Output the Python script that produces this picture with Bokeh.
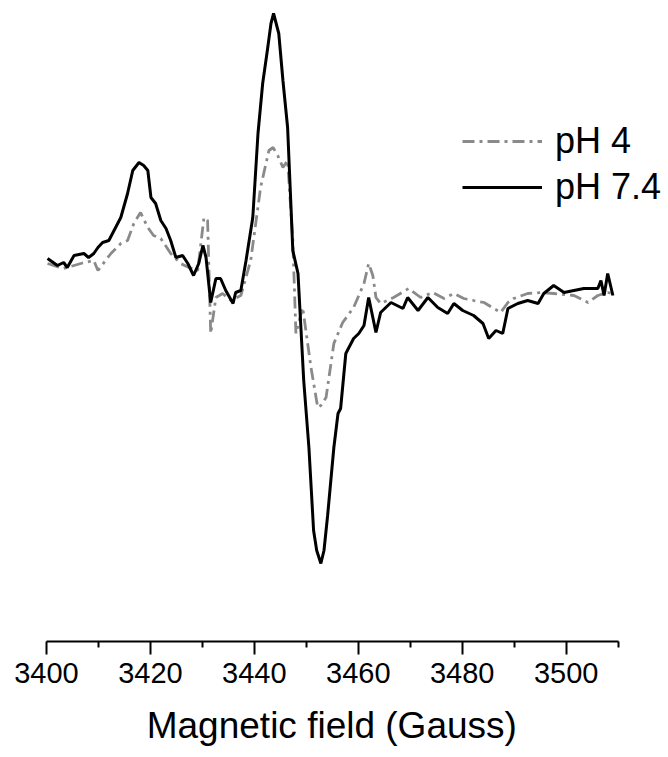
from bokeh.plotting import figure
from bokeh.models import Range1d, FixedTicker, Legend, LegendItem
from bokeh.embed import file_html
from bokeh.resources import INLINE

# pH 7.4 (solid black)
field_74 = [3400.2, 3402.1, 3403.3, 3404.0, 3405.3, 3407.2, 3408.1, 3409.1, 3409.9, 3410.8,
            3412.0, 3413.0, 3414.3, 3415.6, 3416.6, 3417.8, 3418.7, 3419.5, 3420.1, 3421.0,
            3422.0, 3423.0, 3423.9, 3424.9, 3426.2, 3427.2, 3428.3, 3429.3, 3430.1, 3430.7,
            3431.6, 3432.6, 3433.5, 3434.5, 3435.9, 3436.4, 3437.4, 3438.4, 3439.7, 3440.7,
            3441.6, 3442.5, 3443.2, 3443.7, 3444.7, 3445.5, 3446.4, 3447.0, 3447.4, 3448.4,
            3449.5, 3450.5, 3451.4, 3452.0, 3452.8, 3453.4, 3454.1, 3455.3, 3456.1, 3456.6,
            3457.6, 3459.1, 3460.1, 3461.1, 3462.0, 3463.4, 3464.3, 3466.3, 3468.6, 3469.5,
            3471.5, 3473.4, 3475.3, 3477.2, 3478.4, 3480.1, 3482.2, 3484.0, 3485.1, 3486.5,
            3487.8, 3488.8, 3490.7, 3492.6, 3494.6, 3495.7, 3497.6, 3499.6, 3501.5, 3503.4,
            3506.1, 3506.7, 3507.3, 3508.0, 3509.0]
signal_74 = [7, 0, 3, -2, 10, 12, 8, 12, 18, 23,
             25, 35, 48, 72, 95, 103, 100, 95, 68, 62,
             45, 37, 25, 8, 10, 2, -10, 2, 20, 8,
             -37, -13, -13, -25, -38, -27, -25, 5, 48, 132,
             182, 215, 242, 252, 232, 185, 138, 65, 15, -8,
             -115, -182, -265, -285, -298, -285, -250, -182, -148, -143,
             -88, -73, -68, -60, -32, -67, -47, -37, -43, -32,
             -45, -32, -42, -48, -38, -45, -50, -58, -73, -65,
             -68, -43, -38, -35, -38, -28, -20, -27, -25, -23,
             -23, -15, -30, -8, -30]

# pH 4 (grey dash-dot)
field_4 = [3400.2, 3403.3, 3406.6, 3409.1, 3409.9, 3412.4, 3414.3, 3415.6, 3416.8, 3418.1,
           3419.5, 3420.6, 3422.0, 3423.9, 3425.8, 3427.4, 3429.1, 3430.3, 3431.0, 3431.6,
           3432.6, 3433.9, 3435.5, 3437.4, 3439.3, 3441.2, 3442.8, 3443.6, 3444.5, 3445.5,
           3446.4, 3447.4, 3448.0, 3449.3, 3450.9, 3452.2, 3452.8, 3453.8, 3455.3, 3457.0,
           3459.1, 3461.1, 3462.0, 3462.8, 3463.4, 3464.3, 3466.8, 3469.7, 3472.0, 3474.3,
           3476.5, 3478.4, 3480.3, 3482.2, 3484.2, 3486.1, 3487.4, 3488.8, 3489.9, 3492.6,
           3495.1, 3497.6, 3501.5, 3504.2, 3506.1, 3508.0, 3509.0]
signal_4 = [2, -3, 2, 5, -5, 12, 22, 25, 42, 53,
            38, 30, 27, 12, 2, -2, -5, 48, 45, -68,
            -32, -28, -35, -30, 5, 78, 115, 118, 110, 98,
            105, 25, -68, -42, -102, -142, -140, -132, -78, -57,
            -42, -18, 2, -10, -32, -38, -32, -23, -32, -27,
            -33, -28, -33, -35, -37, -43, -47, -37, -33, -28,
            -27, -28, -30, -37, -30, -27, -28]

x_ticks = [3400, 3420, 3440, 3460, 3480, 3500]
x_minor = [3410, 3430, 3450, 3470, 3490, 3510]
labels = ["pH 4", "pH 7.4"]
x_title = "Magnetic field (Gauss)"

FONT = "Liberation Sans"

p = figure(width=668, height=757, output_backend="svg", toolbar_location=None,
           x_range=Range1d(3400, 3519.7), y_range=Range1d(-376, 265),
           min_border_left=46, min_border_right=0, min_border_top=0,
           min_border_bottom=116, y_axis_location=None)
p.outline_line_color = None
p.grid.visible = False
p.background_fill_color = "white"
p.border_fill_color = "white"

r4 = p.line(field_4, signal_4, line_color="#8a8a8a", line_width=2.8, line_dash="12 5 3 5")
r74 = p.line(field_74, signal_74, line_color="black", line_width=3)

ax = p.xaxis[0]
ax.bounds = (3400, 3510)
ax.ticker = FixedTicker(ticks=x_ticks, minor_ticks=x_minor)
ax.axis_line_width = 2
ax.axis_line_color = "black"
ax.major_tick_line_width = 2
ax.minor_tick_line_width = 2
ax.major_tick_out = 13
ax.major_tick_in = 0
ax.minor_tick_out = 6
ax.minor_tick_in = 0
ax.major_label_text_font = FONT
ax.major_label_text_font_size = "29px"
ax.major_label_text_color = "black"
ax.major_label_standoff = 8
# trailing no-break spaces shift the centred title under the bounded axis
ax.axis_label = x_title + "\u00a0" * 5
ax.axis_label_text_font = FONT
ax.axis_label_text_font_size = "37px"
ax.axis_label_text_font_style = "normal"
ax.axis_label_text_color = "black"
ax.axis_label_standoff = 19

legend = Legend(items=[LegendItem(label=labels[0], renderers=[r4]),
                       LegendItem(label=labels[1], renderers=[r74])],
                location=(416, 433), orientation="vertical",
                label_text_font=FONT, label_text_font_size="36px",
                label_text_color="black", glyph_width=80, glyph_height=42,
                label_standoff=13, spacing=4, padding=0, margin=0,
                background_fill_alpha=0, border_line_color=None)
p.add_layout(legend)

open("out.html", "w").write(file_html(p, INLINE))
